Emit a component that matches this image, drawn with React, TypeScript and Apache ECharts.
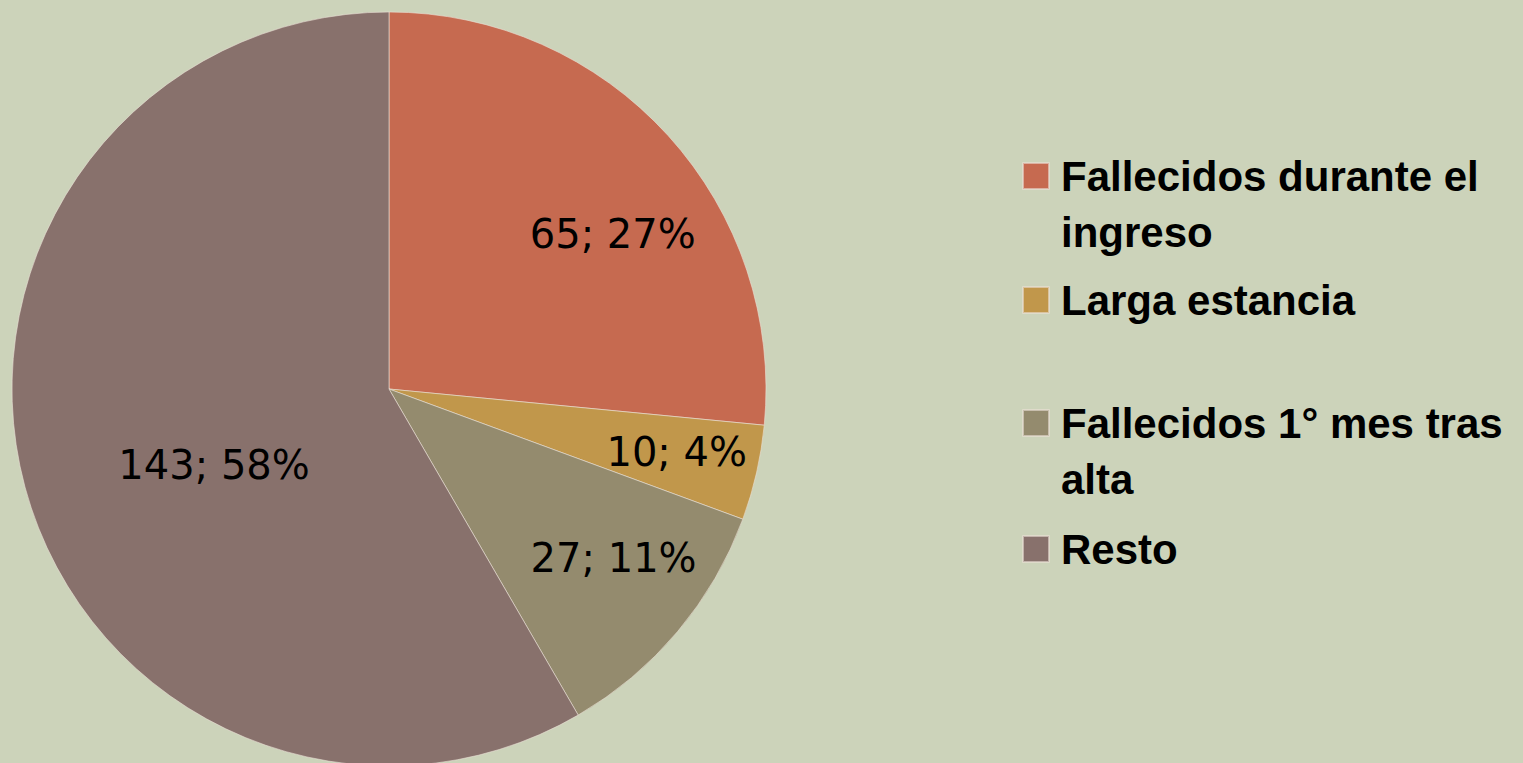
import React, { useEffect, useRef } from "react";
import * as echarts from "echarts";

const categories = [
  "Fallecidos durante el ingreso",
  "Larga estancia",
  "Fallecidos 1° mes tras alta",
  "Resto",
];
const values = [65, 10, 27, 143];
const colors = ["#C66A50", "#C1974B", "#948B6E", "#88716C"];
const legendLines = [
  "\nFallecidos durante el\ningreso",
  "Larga estancia",
  "\nFallecidos 1° mes tras\nalta",
  "Resto",
];
// label nudges from the default inside position (style only)
const labelDX = [82, 101, 78, 10];
const labelDY = [-26, 20, 46, 26];
const legendTops = [92, 272, 339, 521];

export default function App() {
  const ref = useRef<HTMLDivElement>(null);
  useEffect(() => {
    if (!ref.current) return;
    const chart = echarts.init(ref.current, undefined, { renderer: "svg" });
    const legends = categories.map((name, i) => ({
      data: [name],
      left: 1022,
      top: legendTops[i],
      orient: "vertical",
      padding: 0,
      itemWidth: 26,
      itemHeight: 26,
      selectedMode: false,
      icon: "rect",
      formatter: () => legendLines[i],
      textStyle: {
        fontFamily: "Liberation Sans",
        fontWeight: "bold",
        fontSize: 42,
        color: "#000",
        lineHeight: 56,
        padding: [0, 0, 0, 7],
      },
    }));
    chart.setOption({
      animation: false,
      backgroundColor: "#CCD3BA",
      color: colors,
      legend: legends,
      series: [
        {
          type: "pie",
          center: [389, 389],
          radius: 377,
          startAngle: 90,
          clockwise: true,
          percentPrecision: 0,
          avoidLabelOverlap: false,
          emphasis: { disabled: true },
          itemStyle: { borderColor: "rgba(235,225,215,0.6)", borderWidth: 1 },
          label: {
            show: true,
            position: "inside",
            formatter: "{c}; {d}%",
            fontFamily: "DejaVu Sans",
            fontSize: 40,
            color: "#000",
          },
          labelLine: { show: false },
          labelLayout: (p: any) => ({ dx: labelDX[p.dataIndex], dy: labelDY[p.dataIndex] }),
          data: categories.map((name, i) => ({ name, value: values[i] })),
        },
      ],
    });
    return () => chart.dispose();
  }, []);
  return (
    <div
      ref={ref}
      style={{ position: "fixed", left: 0, top: 0, width: 1523, height: 763 }}
    />
  );
}
